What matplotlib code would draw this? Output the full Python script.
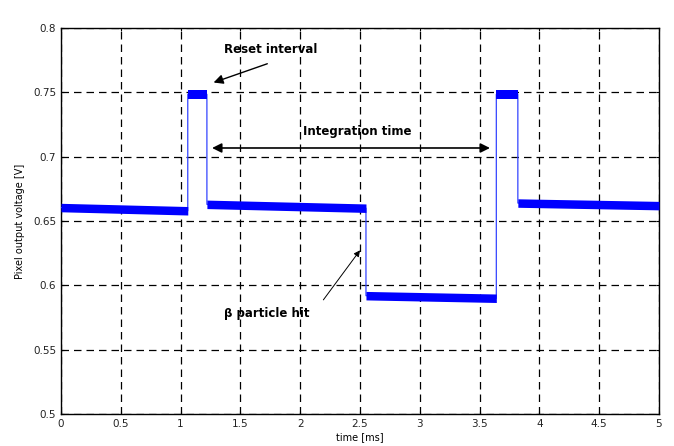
import numpy as np
import matplotlib.pyplot as plt

# flat segments of the pixel output (time in ms, voltage in V)
seg_start = [0.0, 1.06, 1.22, 2.55, 3.64, 3.82]
seg_end = [1.06, 1.22, 2.55, 3.64, 3.82, 5.0]
level_start = [0.6605, 0.7485, 0.663, 0.592, 0.7485, 0.664]
level_end = [0.658, 0.7485, 0.660, 0.590, 0.7485, 0.662]
noise_half = 0.0033

x_ticks = [0, 0.5, 1, 1.5, 2, 2.5, 3, 3.5, 4, 4.5, 5]
x_labels = ["0", "0.5", "1", "1.5", "2", "2.5", "3", "3.5", "4", "4.5", "5"]
y_ticks = [0.5, 0.55, 0.6, 0.65, 0.7, 0.75, 0.8]
y_labels = ["0.5", "0.55", "0.6", "0.65", "0.7", "0.75", "0.8"]

fig = plt.figure(figsize=(6.74, 4.46), dpi=100)
ax = fig.add_axes([0.0905, 0.0717, 0.8872, 0.8653])

# step trace through all segments
tx = np.ravel(np.column_stack([seg_start, seg_end]))
ty = np.ravel(np.column_stack([level_start, level_end]))
ax.plot(tx, ty, color="#3344ff", lw=0.9, zorder=3)

# noisy band on each flat part
for x0, x1, y0, y1 in zip(seg_start, seg_end, level_start, level_end):
    xs = np.array([x0, x1])
    ys = np.array([y0, y1])
    ax.fill_between(xs, ys - noise_half, ys + noise_half, color="#0000ff",
                    lw=0, zorder=3)

ax.set_xlim(0, 5)
ax.set_ylim(0.5, 0.8)
ax.set_xticks(x_ticks)
ax.set_xticklabels(x_labels)
ax.set_yticks(y_ticks)
ax.set_yticklabels(y_labels)
ax.tick_params(direction="in", length=2, labelsize=7.5, colors="black",
               labelcolor="#222222", top=True, right=True)
ax.grid(True, color="black", linestyle=(0, (6, 4)), lw=0.9)
for s in ax.spines.values():
    s.set_linewidth(1.0)

ax.set_xlabel("time [ms]", fontsize=7, labelpad=2)
ax.set_ylabel("Pixel output voltage [V]", fontsize=7, labelpad=6)

font = dict(fontsize=8.5, fontweight="bold", family="DejaVu Sans")
ax.annotate("", xy=(1.254, 0.757), xytext=(1.747, 0.773),
            arrowprops=dict(arrowstyle="-|>", color="black", lw=1.0,
                            mutation_scale=14))
ax.text(1.75, 0.7835, "Reset interval", ha="center", va="center", **font)

ax.annotate("", xy=(1.24, 0.7068), xytext=(3.61, 0.7068),
            arrowprops=dict(arrowstyle="<|-|>", color="black", lw=1.2,
                            mutation_scale=14))
ax.text(2.475, 0.7195, "Integration time", ha="center", va="center", **font)

ax.annotate("", xy=(2.514, 0.629), xytext=(2.18, 0.587),
            arrowprops=dict(arrowstyle="-|>", color="black", lw=0.7,
                            mutation_scale=9))
ax.text(1.72, 0.578, "\u03b2 particle hit", ha="center", va="center", **font)

fig.savefig("out.png", dpi=100)
